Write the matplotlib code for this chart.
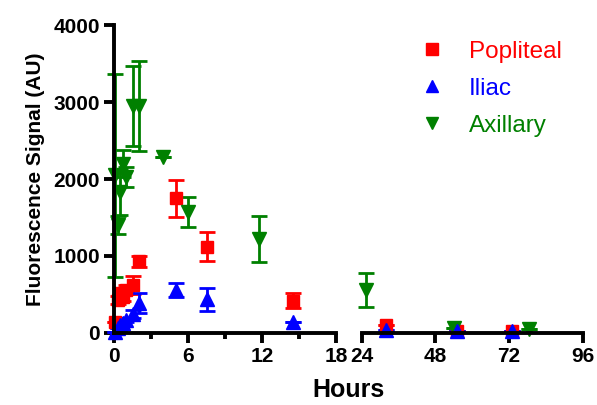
import matplotlib
matplotlib.use("Agg")
import matplotlib.pyplot as plt
from matplotlib.lines import Line2D
import numpy as np

plt.rcParams['font.family'] = ['Liberation Sans', 'DejaVu Sans']

# time (hours), mean signal (AU), error (AU)
pop_t = [0.08, 0.33, 0.5, 0.75, 1.0, 1.5, 2.0, 5.0, 7.5, 14.5, 32, 55, 73]
pop_v = [140, 430, 520, 470, 560, 620, 930, 1750, 1120, 420, 100, 30, 20]
pop_e = [0, 50, 60, 50, 60, 120, 70, 240, 190, 100, 0, 0, 0]

ili_t = [0.08, 0.33, 0.5, 0.75, 1.0, 1.5, 2.0, 5.0, 7.5, 14.5, 32, 55, 73]
ili_v = [10, 60, 100, 130, 170, 250, 390, 560, 440, 140, 40, 30, 20]
ili_e = [0, 0, 0, 20, 30, 50, 130, 90, 150, 0, 0, 0, 0]

axi_t = [0.08, 0.33, 0.5, 0.75, 1.0, 1.5, 2.0, 4.0, 6.0, 11.75, 25.5, 54, 78.5]
axi_v = [2050, 1400, 1830, 2200, 2020, 2950, 2950, 2290, 1570, 1220, 560, 60, 50]
axi_e = [1320, 120, 300, 180, 130, 520, 580, 0, 200, 300, 220, 0, 0]

series = [
    ("Popliteal", pop_t, pop_v, pop_e, "#ff0000", "s", 9),
    ("Axillary", axi_t, axi_v, axi_e, "#008000", "v", 10),
    ("Iliac", ili_t, ili_v, ili_e, "#0000ff", "^", 10),
]

fig = plt.figure(figsize=(5.97, 4.05), dpi=100)
ax1 = fig.add_axes([0.191, 0.178, 0.372, 0.760])
ax2 = fig.add_axes([0.606, 0.178, 0.370, 0.760], sharey=ax1)

for name, t, v, e, c, m, ms in series:
    t, v, e = np.array(t), np.array(v), np.array(e)
    for ax, mask in ((ax1, t < 18), (ax2, t >= 24)):
        ax.errorbar(t[mask], v[mask], yerr=e[mask], fmt=m, color=c, ms=ms,
                    mec=c, elinewidth=2, capsize=6, capthick=2, clip_on=False)

lw = 2.8
ax1.set_xlim(0, 18)
ax1.set_ylim(0, 4000)
ax1.set_xticks([0, 6, 12, 18])
ax1.set_xticks([3, 9, 15], minor=True)
ax1.set_yticks([0, 1000, 2000, 3000, 4000])
ax1.set_ylabel("Fluorescence Signal (AU)", fontsize=15, fontweight="bold",
               labelpad=6)

ax2.set_xlim(24, 96)
ax2.set_xticks([24, 48, 72, 96])
ax2.spines["left"].set_visible(False)
ax2.tick_params(axis="y", left=False, labelleft=False)

for ax in (ax1, ax2):
    for s in ("top", "right"):
        ax.spines[s].set_visible(False)
    ax.spines["bottom"].set_linewidth(lw)
    ax.spines["left"].set_linewidth(lw)
    ax.tick_params(width=lw, length=7, labelsize=15, pad=3)
    ax.tick_params(which="minor", width=lw, length=4.5)
    for lab in ax.get_xticklabels() + ax.get_yticklabels():
        lab.set_fontweight("bold")

fig.text(0.583, 0.02, "Hours", ha="center", fontsize=18, fontweight="bold")

handles = [Line2D([], [], ls="", marker="s", color="#ff0000", ms=8.5),
           Line2D([], [], ls="", marker="^", color="#0000ff", ms=9),
           Line2D([], [], ls="", marker="v", color="#008000", ms=9)]
fig.legend(handles, ["Popliteal", "Iliac", "Axillary"], loc="upper left",
           bbox_to_anchor=(0.683, 0.90), frameon=False, fontsize=17.5,
           labelcolor=["#ff0000", "#0000ff", "#008000"], handletextpad=0.5,
           labelspacing=0.62, borderpad=0, borderaxespad=0)

fig.savefig("out.png", dpi=100)
